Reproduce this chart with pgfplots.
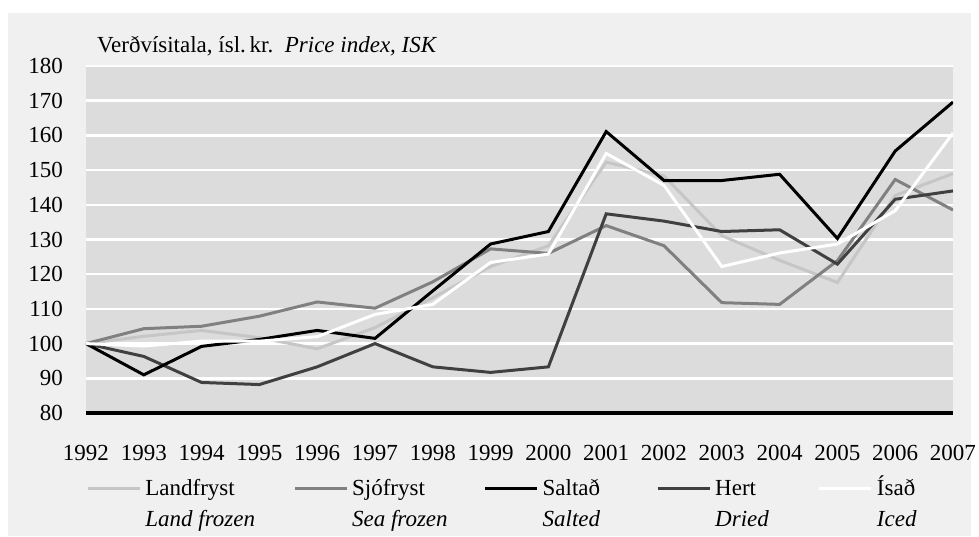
\documentclass[border=0pt]{standalone}
\usepackage{fontspec}
\setmainfont{Liberation Serif}
\usepackage{pgfplots}
\pgfplotsset{compat=1.18}

\definecolor{panel}{HTML}{F0F0F0}
\definecolor{plotbg}{HTML}{DCDCDC}
\definecolor{landc}{HTML}{C6C6C6}
\definecolor{seac}{HTML}{808080}
\definecolor{driedc}{HTML}{404040}

\pgfplotstableread{
year land sea salted dried iced
1992 100.0 100.0 100.0 100.0 100.0
1993 102.1 104.3  91.0  96.3  99.3
1994 103.8 105.0  99.2  88.8 100.7
1995 101.7 107.9 101.2  88.2 100.7
1996  98.5 112.0 103.8  93.3 102.0
1997 104.6 110.2 101.5 100.0 108.4
1998 113.2 117.8 115.2  93.3 111.3
1999 122.2 127.3 128.7  91.7 123.4
2000 128.2 126.0 132.3  93.3 125.8
2001 152.3 134.0 161.1 137.4 154.8
2002 148.3 128.2 147.0 135.3 145.6
2003 131.1 111.8 147.0 132.3 122.2
2004 124.0 111.3 148.8 132.8 126.1
2005 117.6 123.9 130.3 122.9 128.7
2006 142.7 147.3 155.5 141.6 138.3
2007 149.0 138.5 169.6 144.0 160.7
}\prices

\begin{document}
\begin{tikzpicture}
\fontsize{11.5}{13}\selectfont
\path[use as bounding box] (-43pt,-61.5pt) rectangle (446.5pt,206.5pt);
\fill[panel] (-39pt,-61.5pt) rectangle (442.5pt,200pt);
\begin{axis}[
    at={(0,0)}, anchor=south west,
    scale only axis,
    width=433.5pt, height=173.5pt,
    xmin=1992, xmax=2007,
    ymin=80, ymax=180,
    xtick={1992,...,2007},
    ytick={80,90,...,180},
    xticklabel style={/pgf/number format/1000 sep={}, yshift=-12pt},
    yticklabel style={xshift=-7.5pt},
    /pgf/number format/assume math mode=true,
    tick style={draw=none},
    axis background/.style={fill=plotbg},
    ymajorgrids,
    grid style={white, line width=1.2pt},
    axis x line*=bottom,
    axis y line*=left,
    y axis line style={draw=none},
    x axis line style={black, line width=1.6pt, -},
    ticklabel style={font=\fontsize{11.5}{13}\selectfont},
    title={Verðvísitala, ísl.\,kr.\ \ \textit{Price index, ISK}},
    title style={at={(0,1)}, anchor=south west, xshift=1.5pt, yshift=-5pt, font=\fontsize{11.5}{13}\selectfont},
    every axis plot/.append style={line width=1.5pt, line join=miter},
  ]
  \addplot[landc] table[x=year, y=land] {\prices};
  \addplot[seac] table[x=year, y=sea] {\prices};
  \addplot[driedc] table[x=year, y=dried] {\prices};
  \addplot[black] table[x=year, y=salted] {\prices};
  \addplot[white] table[x=year, y=iced] {\prices};
\end{axis}
\begin{axis}[
    at={(0,0)}, anchor=south west,
    scale only axis, hide axis,
    width=433.5pt, height=173.5pt,
    xmin=1992, xmax=2007, ymin=80, ymax=180,
    legend columns=5,
    legend style={at={(0,0)}, anchor=north west, xshift=-3pt, yshift=-28pt,
      draw=none, fill=none, font=\fontsize{11.5}{13}\selectfont,
      nodes={text height=9pt, text depth=2.5pt},
      /tikz/every odd column/.append style={column sep=0pt},
      /tikz/column 2/.style={column sep=17pt},
      /tikz/column 4/.style={column sep=16pt},
      /tikz/column 6/.style={column sep=26pt},
      /tikz/column 8/.style={column sep=22.5pt},
      row sep=0pt},
    legend cell align=left,
    legend image code/.code={\draw[#1, line width=1.5pt] (0pt,0pt) -- (26pt,0pt);},
  ]
  \addlegendimage{landc}\addlegendentry{Landfryst}
  \addlegendimage{seac}\addlegendentry{Sjófryst}
  \addlegendimage{black}\addlegendentry{Saltað}
  \addlegendimage{driedc}\addlegendentry{Hert}
  \addlegendimage{white}\addlegendentry{Ísað}
  \addlegendimage{empty legend}\addlegendentry{\textit{Land frozen}}
  \addlegendimage{empty legend}\addlegendentry{\textit{Sea frozen}}
  \addlegendimage{empty legend}\addlegendentry{\textit{Salted}}
  \addlegendimage{empty legend}\addlegendentry{\textit{Dried}}
  \addlegendimage{empty legend}\addlegendentry{\textit{Iced}}
\end{axis}
\end{tikzpicture}
\end{document}
